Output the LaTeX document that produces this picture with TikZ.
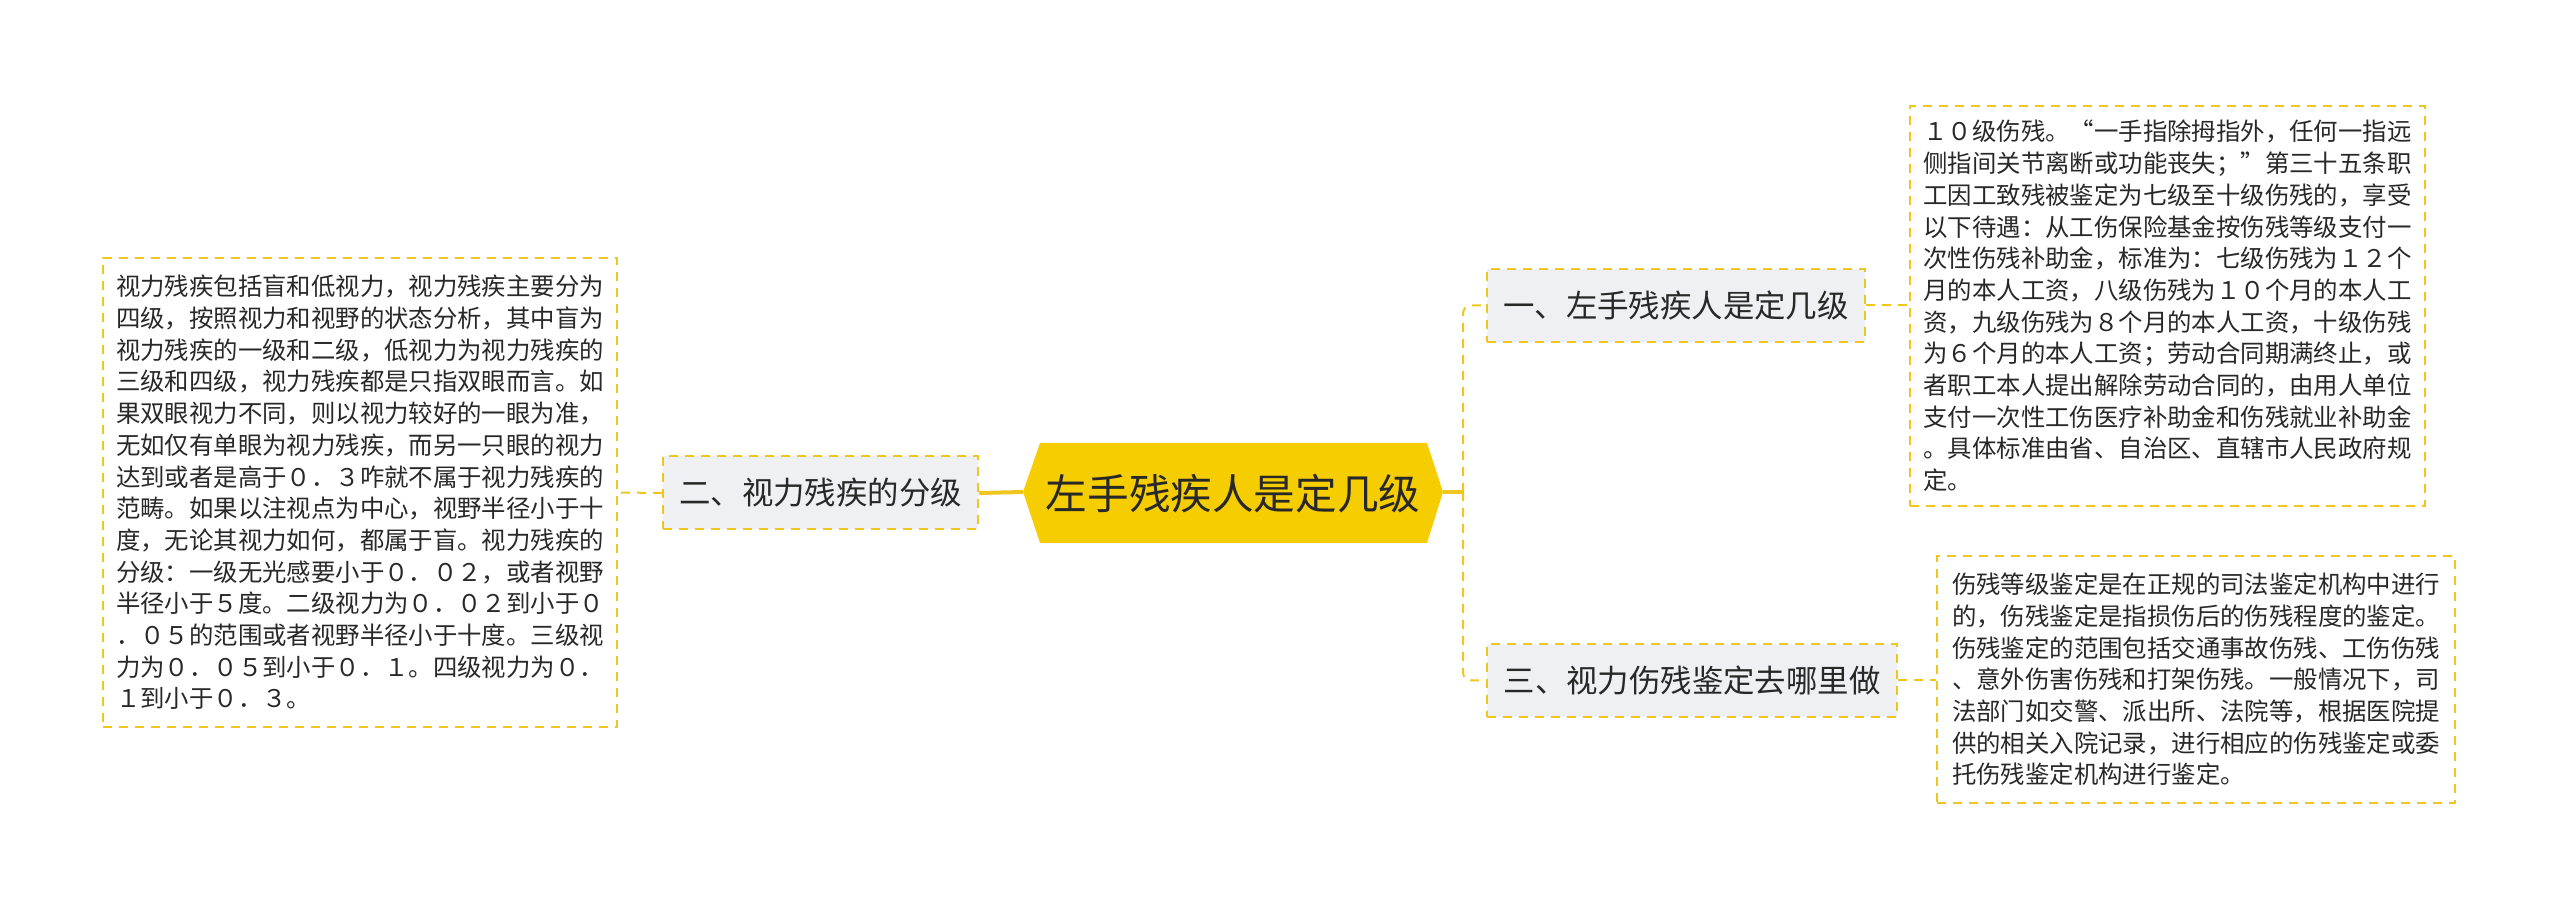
\documentclass[tikz,border=0pt]{standalone}
\usepackage{fontspec}
\setmainfont{Noto Sans CJK SC}
\usetikzlibrary{shapes.misc}
\definecolor{hexfill}{RGB}{246,205,0}
\definecolor{lineyel}{RGB}{240,198,30}
\definecolor{boxgray}{RGB}{238,240,244}
\definecolor{txt}{RGB}{40,40,40}
\tikzset{
  dashy/.style={draw=lineyel, line width=1pt, dash pattern=on 4.5pt off 3.5pt},
  branchbox/.style={dashy, fill=boxgray, text=txt, inner sep=0pt, minimum height=36.5pt,
     font=\fontsize{15.7pt}{19pt}\selectfont},
  textbox/.style={dashy, fill=white, text=txt, inner sep=0pt, align=left,
     font=\fontsize{12.2pt}{15.85pt}\selectfont},
  solidlink/.style={draw=lineyel, line width=2pt},
  dashlink/.style={dashy, rounded corners=4pt},
}
\begin{document}
\begin{tikzpicture}[x=0.5pt,y=-0.5pt]
\useasboundingbox (0,0) rectangle (2560,908);
% centre hexagon
\coordinate (hw) at (1023,492);
\coordinate (he) at (1443,492);
\fill[hexfill] (1023,492) -- (1040,443) -- (1427,443) -- (1443,492) -- (1427,543) -- (1040,543) -- cycle;
\node[text=txt, font=\fontsize{20.8pt}{24pt}\selectfont, inner sep=0pt] (c) at (1233,494) {左手残疾人是定几级};
% branches
\node[branchbox, minimum width=157.5pt] (b2) at (820.5,493) {二、视力残疾的分级};
\node[branchbox, minimum width=189pt] (b1) at (1676,305.5) {一、左手残疾人是定几级};
\node[branchbox, minimum width=205pt] (b3) at (1692,680.5) {三、视力伤残鉴定去哪里做};
% text boxes
\node[textbox, minimum width=257pt, minimum height=234.5pt] (t2) at (360,492.5) {视力残疾包括盲和低视力，视力残疾主要分为\\四级，按照视力和视野的状态分析，其中盲为\\视力残疾的一级和二级，低视力为视力残疾的\\三级和四级，视力残疾都是只指双眼而言。如\\果双眼视力不同，则以视力较好的一眼为准，\\无如仅有单眼为视力残疾，而另一只眼的视力\\达到或者是高于０．３咋就不属于视力残疾的\\范畴。如果以注视点为中心，视野半径小于十\\度，无论其视力如何，都属于盲。视力残疾的\\分级：一级无光感要小于０．０２，或者视野\\半径小于５度。二级视力为０．０２到小于０\\．０５的范围或者视野半径小于十度。三级视\\力为０．０５到小于０．１。四级视力为０．\\１到小于０．３。};
\node[textbox, minimum width=257.5pt, minimum height=200pt] (t1) at (2167.5,306) {１０级伤残。“一手指除拇指外，任何一指远\\侧指间关节离断或功能丧失；”第三十五条职\\工因工致残被鉴定为七级至十级伤残的，享受\\以下待遇：从工伤保险基金按伤残等级支付一\\次性伤残补助金，标准为：七级伤残为１２个\\月的本人工资，八级伤残为１０个月的本人工\\资，九级伤残为８个月的本人工资，十级伤残\\为６个月的本人工资；劳动合同期满终止，或\\者职工本人提出解除劳动合同的，由用人单位\\支付一次性工伤医疗补助金和伤残就业补助金\\。具体标准由省、自治区、直辖市人民政府规\\定。};
\node[textbox, minimum width=259pt, minimum height=123.5pt] (t3) at (2196,679.5) {伤残等级鉴定是在正规的司法鉴定机构中进行\\的，伤残鉴定是指损伤后的伤残程度的鉴定。\\伤残鉴定的范围包括交通事故伤残、工伤伤残\\、意外伤害伤残和打架伤残。一般情况下，司\\法部门如交警、派出所、法院等，根据医院提\\供的相关入院记录，进行相应的伤残鉴定或委\\托伤残鉴定机构进行鉴定。};
% connectors
\coordinate (j) at (1463,492);
\draw[solidlink] (hw) -- (b2.east);
\draw[dashy] (b2.west) -- (t2.east);
\draw[solidlink] (he) -- (j);
\draw[dashlink] (j) |- (b1.west);
\draw[dashlink] (j) |- (b3.west);
\draw[dashy] (b1.east) -- (b1.east -| t1.west);
\draw[dashy] (b3.east) -- (b3.east -| t3.west);
\end{tikzpicture}
\end{document}
